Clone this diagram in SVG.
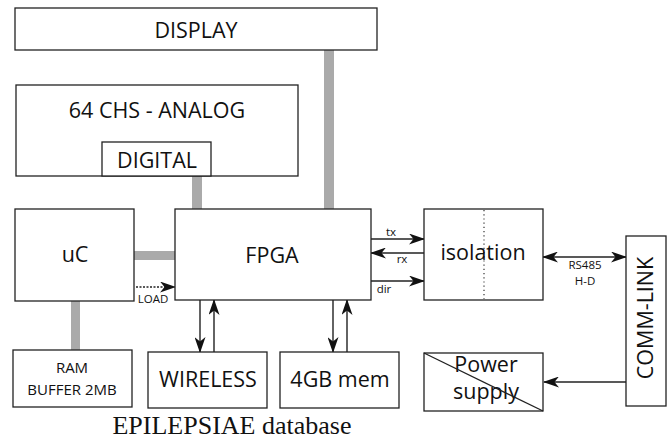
<svg xmlns="http://www.w3.org/2000/svg" width="667" height="440" viewBox="0 0 667 440">
<style>
.box{fill:#fff;stroke:#222;stroke-width:1.3}
.bar{fill:#aaa}
.t{font-family:"Open Sans","DejaVu Sans",sans-serif;fill:#111;text-anchor:middle}
.big{font-size:21.5px}
.mid{font-size:15px}
.sm{font-size:11.5px}
.ln{stroke:#222;stroke-width:1.4;fill:none}
</style>
<defs>
<marker id="ah" viewBox="0 0 16 11" refX="15" refY="5.5" markerWidth="16" markerHeight="11" markerUnits="userSpaceOnUse" orient="auto-start-reverse">
<path d="M0,0 L16,5.5 L0,11 L4.5,5.5 Z" fill="#111"/>
</marker>
</defs>
<g id="connectors">
<rect class="bar" x="324" y="50" width="10" height="159"/>
<rect class="bar" x="192" y="176" width="10" height="33"/>
<rect class="bar" x="134" y="251" width="41" height="9"/>
<rect class="bar" x="71" y="301" width="9" height="49"/>
<line class="ln" x1="136" y1="287" x2="175" y2="287" stroke-dasharray="2,1.5" stroke-width="1.2" marker-end="url(#ah)"/>
<text class="t sm" x="153" y="303">LOAD</text>
<line class="ln" x1="200" y1="300" x2="200" y2="352" marker-end="url(#ah)"/>
<line class="ln" x1="214" y1="352" x2="214" y2="300" marker-end="url(#ah)"/>
<line class="ln" x1="333" y1="300" x2="333" y2="352" marker-end="url(#ah)"/>
<line class="ln" x1="347" y1="352" x2="347" y2="300" marker-end="url(#ah)"/>
<line class="ln" x1="371" y1="239" x2="424" y2="239" marker-end="url(#ah)"/>
<text class="t sm" x="391" y="236">tx</text>
<line class="ln" x1="424" y1="253" x2="371" y2="253" marker-end="url(#ah)"/>
<text class="t sm" x="402" y="263">rx</text>
<line class="ln" x1="371" y1="281" x2="424" y2="281" marker-end="url(#ah)"/>
<text class="t sm" x="384" y="293">dir</text>
<line class="ln" x1="543" y1="257" x2="626" y2="257" marker-start="url(#ah)" marker-end="url(#ah)"/>
<text class="t sm" x="585" y="269">RS485</text>
<text class="t sm" x="585" y="285">H-D</text>
<line class="ln" x1="626" y1="382" x2="544" y2="382" marker-end="url(#ah)"/>
</g>
<g id="display">
<rect class="box" x="15" y="8" width="362" height="42"/>
<text class="t big" x="196" y="38">DISPLAY</text>
</g>
<g id="analog">
<rect class="box" x="16" y="85" width="282" height="91"/>
<text class="t big" x="157" y="118">64 CHS - ANALOG</text>
</g>
<g id="digital">
<rect class="box" x="102" y="142" width="109" height="34"/>
<text class="t big" x="157" y="168">DIGITAL</text>
</g>
<g id="uc">
<rect class="box" x="15" y="209" width="119" height="92"/>
<text class="t big" x="75" y="262">uC</text>
</g>
<g id="fpga">
<rect class="box" x="175" y="209" width="196" height="91"/>
<text class="t big" x="272" y="263">FPGA</text>
</g>
<g id="isolation">
<rect class="box" x="424" y="209" width="119" height="91"/>
<line x1="484" y1="210" x2="484" y2="299" stroke="#333" stroke-width="1.2" stroke-dasharray="1.2,3"/>
<text class="t big" x="483" y="260">isolation</text>
</g>
<g id="ram">
<rect class="box" x="13" y="350" width="119" height="57"/>
<text class="t mid" x="72" y="373">RAM</text>
<text class="t mid" x="72" y="395">BUFFER 2MB</text>
</g>
<g id="wireless">
<rect class="box" x="148" y="352" width="119" height="56"/>
<text class="t big" x="208" y="387">WIRELESS</text>
</g>
<g id="mem">
<rect class="box" x="280" y="352" width="119" height="56"/>
<text class="t big" x="340" y="387">4GB mem</text>
</g>
<g id="power">
<rect class="box" x="424" y="353" width="119" height="58"/>
<text class="t big" x="486" y="372">Power</text>
<text class="t big" x="486" y="399">supply</text>
<line x1="424" y1="353" x2="543" y2="411" stroke="#222" stroke-width="1.3"/>
</g>
<g id="commlink">
<rect class="box" x="626" y="236" width="40" height="170"/>
<text class="t big" transform="translate(653,318) rotate(-90)" x="0" y="0">COMM-LINK</text>
</g>
<text x="232" y="434" font-family="'Liberation Serif','Times New Roman',serif" font-size="26" text-anchor="middle" fill="#111">EPILEPSIAE database</text>
</svg>
